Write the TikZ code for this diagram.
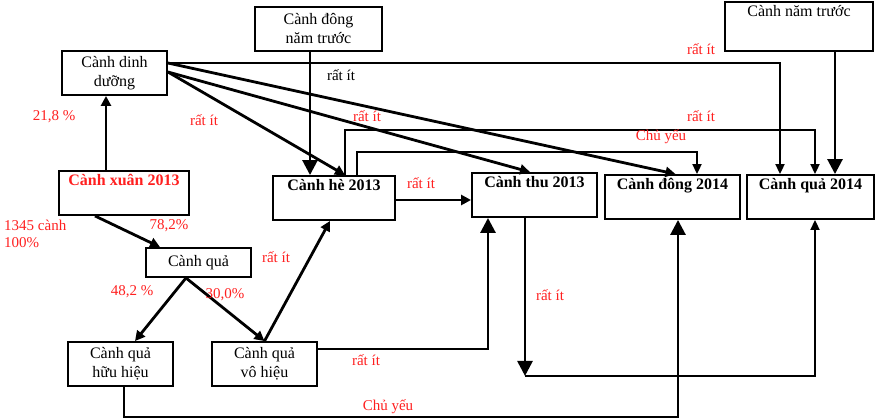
\documentclass[tikz,border=0pt]{standalone}
\usepackage{fontspec}
\setmainfont{Liberation Serif}
\usetikzlibrary{arrows.meta}
\definecolor{lblred}{RGB}{255,32,32}
\newcommand{\boxfont}{\fontsize{16}{19}\selectfont}
\newcommand{\lblfont}{\fontsize{15}{17}\selectfont}

\begin{document}
\begin{tikzpicture}[x=1pt, y=-1pt,
		box/.style 2 args={draw, line width=1.9pt, minimum width=#1pt, minimum height=#2pt, inner sep=0pt, align=center, font=\boxfont},
		headbox/.style 2 args={label={[anchor=north, yshift=-4pt, inner sep=0pt, font=\boxfont, #1]north:#2}},
		lbl/.style={text=lblred, font=\lblfont, inner sep=0pt},
		conn/.style={line width=2.8pt, -{Triangle[width=10pt,length=10pt]}},
		bigconn/.style={line width=2.8pt, -{Triangle[width=15pt,length=15pt]}},
		elbow/.style={line width=2pt, -{Triangle[width=9pt,length=10pt]}}]

	\useasboundingbox (0,0) rectangle (875,418);

	\node[box={127}{44}] (dongtr) at (318.5,29) {Cành đông\\năm trước};
	\node[box={148}{49}, headbox={}{Cành năm trước}] (namtr) at (799,26.5) {};
	\node[box={105}{44}] (dinh) at (114.5,73) {Cành dinh\\dưỡng};
	\node[box={130}{44}, headbox={font=\boxfont\bfseries, text=lblred}{Cành xuân 2013}] (xuan) at (124,193) {};
	\node[box={122}{44}, headbox={font=\boxfont\bfseries}{Cành hè 2013}] (he) at (334,198) {};
	\node[box={125}{44}, headbox={font=\boxfont\bfseries}{Cành thu 2013}] (thu) at (534.5,195) {};
	\node[box={135}{44}, headbox={font=\boxfont\bfseries}{Cành đông 2014}] (dong) at (672.5,197) {};
	\node[box={127}{44}, headbox={font=\boxfont\bfseries}{Cành quả 2014}] (qua14) at (810.5,197) {};
	\node[box={105}{29}] (qua) at (198.5,262.5) {Cành quả};
	\node[box={105}{44}] (huu) at (120.5,364) {Cành quả\\hữu hiệu};
	\node[box={105}{44}] (vo) at (264.5,364) {Cành quả\\vô hiệu};

	\draw[conn] ([xshift=-8.5pt]dinh.south |- xuan.north) -- ([xshift=-8.5pt]dinh.south);
	\draw[conn] ([xshift=-29pt]xuan.south) -- ([xshift=-38.5pt]qua.north);
	\draw[conn] ([xshift=-12.5pt]qua.south) -- ([xshift=14.5pt]huu.north);
	\draw[conn] ([xshift=-12.5pt]qua.south) -- (vo.north);
	\draw[conn] (vo.north) -- ([xshift=-4pt]he.south);
	\draw[bigconn] ([yshift=15pt]vo.east) -| ([xshift=-46.5pt]thu.south);
	\draw[bigconn] ([xshift=3.5pt]huu.south) -- ++(0,30) -| ([xshift=5.5pt]dong.south);
	\draw[bigconn] ([xshift=-9.5pt]thu.south) -- ++(0,158) coordinate (turn);
	\draw[elbow] (turn) -| ([xshift=4.5pt]qua14.south);
	\draw[conn] ([yshift=-2pt]he.east) -- ([yshift=-2pt]he.east -| thu.west);
	\draw[bigconn] ([xshift=-8.5pt]dongtr.south) -- ([xshift=-8.5pt]dongtr.south |- he.north);
	\draw[bigconn] ([xshift=36pt]namtr.south) -- ([xshift=36pt]namtr.south |- qua14.north);
	\draw[elbow] ([yshift=10pt]dinh.east) -| ([xshift=-30.5pt]qua14.north);
	\draw[conn] ([yshift=10pt]dinh.east) -- ([xshift=3pt]dong.north);
	\draw[conn] ([yshift=1pt]dinh.east) -- ([xshift=11pt]he.north);
	\draw[conn] ([yshift=1pt]dinh.east) -- ([xshift=-4.5pt]thu.north);
	\draw[elbow] ([xshift=11pt]he.north) -- ++(0,-45) -| ([xshift=4.5pt]qua14.north);
	\draw[elbow] ([xshift=23pt]he.north) -- ++(0,-23) -| ([xshift=24.5pt]dong.north);

	\node[lbl] (p218) at (54,117) {21,8 \%};
	\node[lbl, align=left, anchor=north west] (total) at (4,220) {1345 cành\\100\%};
	\node[lbl] (p782) at (169,226) {78,2\%};
	\node[lbl] (p482) at (132,292) {48,2 \%};
	\node[lbl] (p300) at (225,295) {30,0\%};
	\node[lbl] (it1) at (204,120) {rất ít};
	\node[lbl, text=black] (it2) at (341,75) {rất ít};
	\node[lbl] (it3) at (367,116) {rất ít};
	\node[lbl] (it4) at (421,183) {rất ít};
	\node[lbl] (it5) at (701,49) {rất ít};
	\node[lbl] (it6) at (701,116) {rất ít};
	\node[lbl] (chu1) at (661,137) {Chủ yếu};
	\node[lbl] (it7) at (276,257) {rất ít};
	\node[lbl] (it8) at (366,360) {rất ít};
	\node[lbl] (chu2) at (388,407) {Chủ yếu};
	\node[lbl] (it9) at (550,295) {rất ít};
\end{tikzpicture}
\end{document}
